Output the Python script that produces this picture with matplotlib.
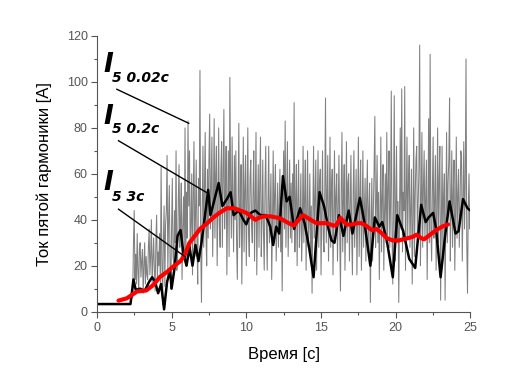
import numpy as np
import matplotlib
matplotlib.use("Agg")
import matplotlib.pyplot as plt

# raw signal, 0.02 s window (read at 0.05 s steps from the picture)
grey_t0 = 2.4
grey_dt = 0.05
grey_v = [6, 30, 44, 14, 25, 12, 34, 18, 9, 28, 30, 15, 22, 27, 8, 20, 30, 12, 24, 16,
          14, 28, 36, 16, 24, 40, 12, 22, 32, 18, 9, 30, 42, 14, 26, 20, 34, 10, 63, 24,
          3, 30, 46, 11, 38, 44, 68, 16, 40, 55, 20, 10, 36, 58, 24, 20, 44, 30, 70, 18,
          22, 48, 64, 28, 40, 56, 14, 36, 50, 26, 80, 20, 52, 32, 83, 46, 70, 24, 38, 60,
          16, 50, 74, 24, 42, 66, 30, 12, 58, 46, 105, 30, 4, 44, 72, 28, 52, 78, 34, 20,
          62, 32, 66, 86, 36, 54, 76, 24, 48, 84, 32, 60, 72, 20, 44, 80, 38, 28, 62, 74,
          28, 58, 88, 36, 50, 72, 16, 46, 70, 24, 102, 56, 32, 76, 48, 26, 68, 40, 70, 30,
          14, 50, 82, 28, 44, 64, 12, 40, 76, 26, 54, 68, 20, 46, 80, 34, 24, 58, 66, 38,
          30, 52, 70, 22, 48, 78, 16, 42, 64, 28, 56, 76, 24, 40, 66, 34, 18, 54, 72, 36,
          18, 48, 72, 30, 44, 60, 14, 38, 70, 32, 52, 64, 22, 40, 56, 28, 44, 62, 26, 50,
          9, 46, 70, 36, 83, 28, 52, 74, 24, 44, 66, 32, 56, 30, 60, 40, 91, 26, 48, 64,
          20, 48, 66, 28, 40, 60, 22, 36, 72, 30, 50, 66, 18, 44, 70, 28, 38, 60, 24, 46,
          8, 40, 72, 32, 50, 66, 18, 44, 70, 28, 56, 62, 16, 44, 70, 32, 26, 52, 93, 30,
          48, 68, 22, 44, 76, 28, 54, 62, 16, 40, 70, 32, 50, 60, 22, 44, 68, 34, 9, 52,
          78, 26, 48, 64, 18, 40, 74, 30, 56, 60, 22, 44, 68, 34, 16, 52, 70, 28, 46, 62,
          16, 42, 76, 24, 50, 66, 18, 38, 70, 28, 44, 58, 22, 48, 66, 28, 44, 56, 4, 36,
          58, 22, 44, 62, 85, 28, 46, 68, 30, 52, 14, 40, 76, 26, 50, 64, 18, 44, 60, 30,
          78, 30, 54, 70, 28, 46, 96, 34, 12, 50, 94, 22, 44, 72, 30, 48, 4, 40, 80, 36,
          97, 26, 52, 44, 98, 18, 48, 76, 32, 56, 68, 28, 44, 62, 12, 40, 80, 24, 50, 66,
          72, 30, 48, 62, 116, 20, 46, 78, 28, 54, 70, 32, 50, 66, 14, 42, 84, 30, 112, 36,
          22, 52, 76, 32, 48, 68, 18, 44, 80, 30, 58, 72, 5, 40, 72, 26, 50, 60, 5, 44,
          78, 30, 56, 66, 93, 22, 48, 70, 28, 52, 66, 18, 44, 76, 32, 50, 62, 28, 46, 70,
          68, 22, 50, 74, 36, 56, 110, 30, 8, 44, 60, 36, 45]

# 0.2 s window
black_t = [0, 2.25, 2.45, 2.6, 2.9, 3.2, 3.5, 3.7, 3.9, 4.1, 4.3, 4.5, 4.7, 4.9, 5.0,
           5.2, 5.4, 5.6, 5.8, 6.0, 6.2, 6.4, 6.6, 6.8, 7.0, 7.2, 7.45, 7.6, 7.8, 8.15,
           8.4, 8.7, 8.95, 9.15, 9.5, 9.8, 10.0, 10.3, 10.6, 10.95, 11.3, 11.6, 11.8, 12.0,
           12.2, 12.45, 12.7, 12.9, 13.2, 13.6, 13.9, 14.2, 14.5, 14.9, 15.2, 15.5, 15.7,
           15.9, 16.2, 16.5, 16.85, 17.1, 17.6, 17.9, 18.3, 18.6, 18.9, 19.1, 19.4, 19.8,
           20.1, 20.5, 20.9, 21.3, 21.7, 22.0, 22.2, 22.5, 22.7, 23.0, 23.3, 23.6, 24.0,
           24.2, 24.5, 24.8, 25.0]
black_v = [3.3, 3.3, 14, 9.5, 10, 9, 13, 15, 13, 8, 12, 1, 13, 18, 10,
           19, 33, 35.5, 25, 20, 28, 20, 29, 22, 30, 40, 53, 42, 47, 56,
           46, 49, 52, 42, 44, 40, 38, 43, 44, 42, 42, 37, 29, 37,
           34, 59, 48, 50, 36, 45, 38.5, 28, 15, 52, 46, 36, 31,
           30, 42, 33, 44, 34, 49.5, 39, 20, 41, 37, 39, 31, 15,
           42, 35, 23, 19, 46.5, 39, 41, 43, 36, 15, 33, 48, 34,
           35, 49, 45, 44]

# 3 s window
red_t = [1.45, 2.0, 2.4, 2.7, 3.0, 3.3, 3.8, 4.2, 4.7, 5.1, 5.6, 5.9, 6.2, 6.5, 6.9,
         7.3, 7.8, 8.2, 8.7, 9.2, 9.6, 10.0, 10.3, 10.6, 10.9, 11.2, 11.6, 12.0, 12.3,
         12.7, 13.0, 13.2, 13.5, 13.8, 14.3, 14.7, 15.1, 15.4, 15.8, 16.0, 16.3, 16.7,
         17.0, 17.4, 17.7, 18.0, 18.4, 18.7, 19.0, 19.4, 19.8, 20.2, 20.7, 21.1, 21.4,
         21.7, 21.9, 22.3, 22.7, 23.1, 23.5]
red_v = [4.8, 5.8, 7.5, 8.8, 9, 9.2, 11.7, 15, 17.3, 19.6, 22, 25, 30, 32.5, 36,
         38, 41, 43, 45, 45, 44, 43, 41.5, 40, 41, 41.5, 41.5, 41, 40.5,
         39, 38, 37.5, 40, 42, 40, 38.5, 38.5, 38.5, 37.5, 37.5, 40.8, 38,
         37.8, 38.5, 38.5, 37.5, 35.5, 36, 34.5, 32, 31, 31, 31.8, 32.5, 33.5,
         32, 31.5, 33.5, 35.5, 37, 38]

labels = ["5 0.02с", "5 0.2с", "5 3с"]
label_I_pos = [(0.42, 104.5), (0.42, 81.9), (0.42, 53.0)]
label_sub_pos = [(1.0, 99.9), (1.0, 77.8), (1.0, 48.0)]
leader_start = [(1.34, 96.8), (1.45, 74.4), (1.45, 44.6)]
leader_end = [(6.15, 82), (7.36, 51.8), (5.91, 23.9)]

plt.rcParams['font.family'] = ['Liberation Sans', 'DejaVu Sans']

fig = plt.figure(figsize=(5.07, 3.71), dpi=100)
ax = fig.add_axes([0.191, 0.160, 0.737, 0.743])

grey_t = grey_t0 + grey_dt * np.arange(len(grey_v))
ax.plot(grey_t, grey_v, color='#808080', lw=0.75, zorder=1)
ax.plot(black_t, black_v, color='black', lw=1.8, zorder=2)
ax.plot(red_t, red_v, color='#ff0000', lw=3.0, zorder=3, solid_capstyle='round')

for (x0, y0), (x1, y1) in zip(leader_start, leader_end):
    ax.plot([x0, x1], [y0, y1], color='black', lw=1.0, zorder=4)

for lab, (xi, yi), (xs, ys) in zip(labels, label_I_pos, label_sub_pos):
    ax.text(xi, yi, "I", family='DejaVu Sans', fontsize=19, fontweight='bold',
            style='italic', ha='left', va='baseline', zorder=5)
    ax.text(xs, ys, lab, family='DejaVu Sans', fontsize=10, fontweight='bold',
            style='italic', ha='left', va='baseline', zorder=5)

ax.set_xlim(0, 25)
ax.set_ylim(0, 120)
ax.set_xticks(np.arange(0, 26, 5))
ax.set_yticks(np.arange(0, 121, 20))
ax.set_xticks(np.arange(0, 26, 2.5), minor=True)
ax.set_yticks(np.arange(0, 121, 10), minor=True)

for s in ['top', 'right']:
    ax.spines[s].set_visible(False)
for s in ['left', 'bottom']:
    ax.spines[s].set_color('#555555')
    ax.spines[s].set_linewidth(0.8)

ax.tick_params(which='major', direction='out', length=4.5, width=0.8,
               color='#555555', labelcolor='#555555', labelsize=9)
ax.tick_params(which='minor', direction='out', length=2.5, width=0.8, color='#555555')
ax.tick_params(axis='y', pad=2)
ax.tick_params(axis='x', pad=3)

ax.set_xlabel("Время [с]", fontsize=12, labelpad=9)
ax.set_ylabel("Ток пятой гармоники [A]", fontsize=12, labelpad=11)

fig.savefig("out.png", dpi=100)
